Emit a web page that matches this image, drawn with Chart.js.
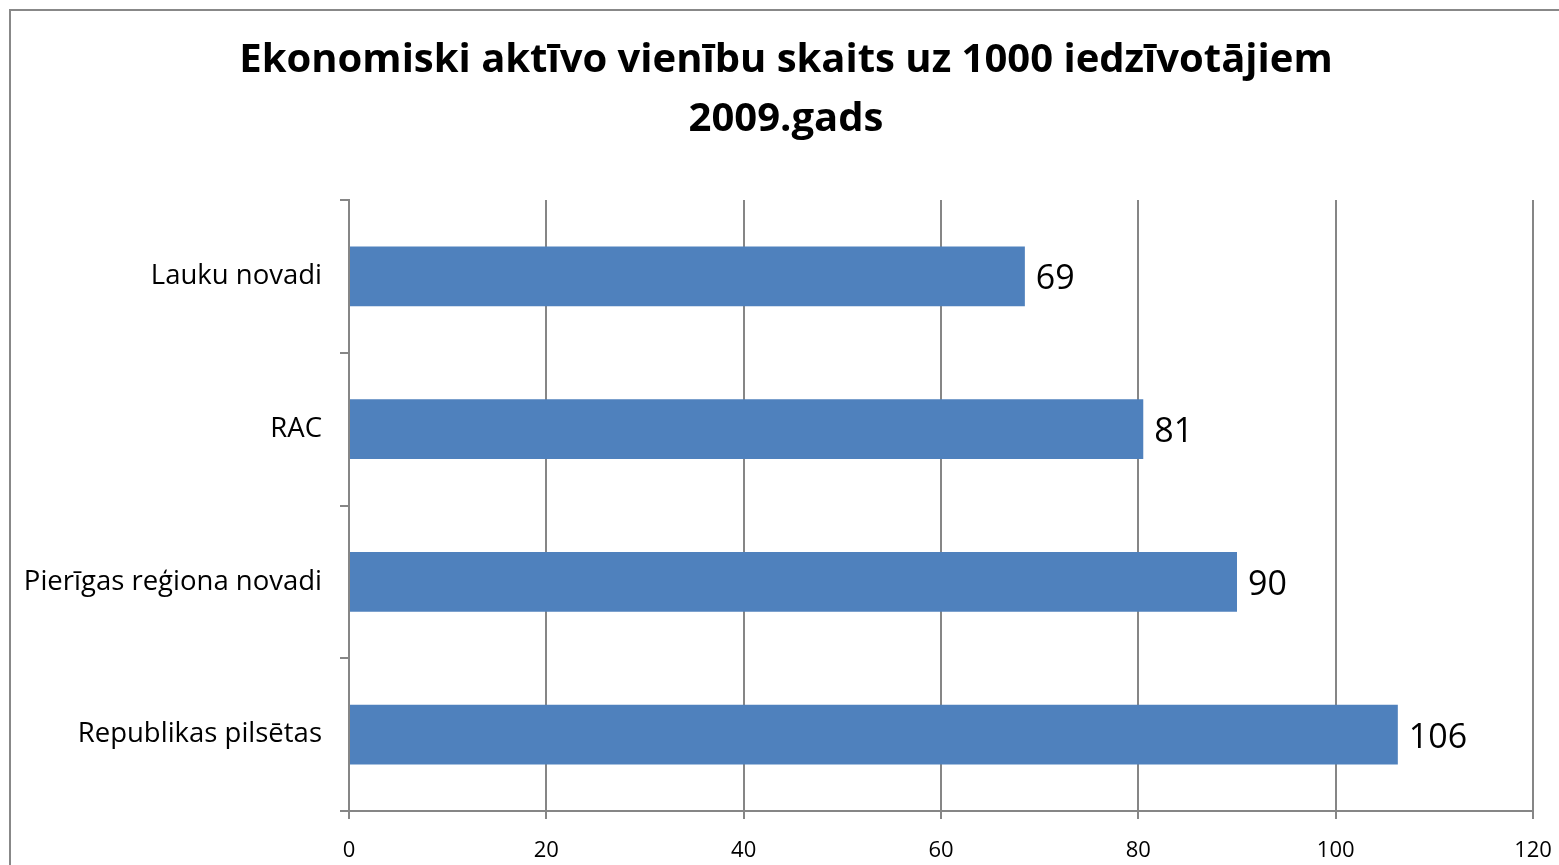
<!DOCTYPE html>
<html><head><meta charset="utf-8">
<script src="https://cdn.jsdelivr.net/npm/chart.js@4/dist/chart.umd.min.js"></script>
<style>html,body{margin:0;padding:0;background:#fff;overflow:hidden}#wrap{position:absolute;left:0;top:0;width:1559px;height:865px}</style>
</head><body><div id="wrap"><canvas id="c" width="1559" height="865"></canvas></div>
<script>
const titleLines = ['Ekonomiski aktīvo vienību skaits uz 1000 iedzīvotājiem', '2009.gads'];
const categories = ['Lauku novadi', 'RAC', 'Pierīgas reģiona novadi', 'Republikas pilsētas'];
const values = [68.5, 80.5, 90, 106.3];
const xTicks = [0, 20, 40, 60, 80, 100, 120];

const FONT = '"Open Sans", Lato, sans-serif';
const GRID = '#868686';

const framePlugin = {
  id: 'frame',
  beforeDraw(chart) {
    const ctx = chart.ctx;
    ctx.save();
    ctx.fillStyle = '#fff';
    ctx.fillRect(0, 0, chart.width, chart.height);
    ctx.strokeStyle = '#888';
    ctx.lineWidth = 2;
    ctx.strokeRect(10, 10, 1600, 900);
    ctx.fillStyle = '#000';
    ctx.font = 'bold 40px ' + FONT;
    ctx.textAlign = 'center';
    ctx.textBaseline = 'alphabetic';
    ctx.fillText(titleLines[0], 786, 72);
    ctx.fillText(titleLines[1], 786, 131);
    ctx.restore();
  },
  afterDatasetsDraw(chart) {
    const ctx = chart.ctx;
    const meta = chart.getDatasetMeta(0);
    ctx.save();
    ctx.fillStyle = '#000';
    ctx.font = '34px ' + FONT;
    ctx.textAlign = 'left';
    ctx.textBaseline = 'alphabetic';
    meta.data.forEach((bar, i) => {
      ctx.fillText(String(Math.round(values[i])), bar.x + 11, bar.y + 13);
    });
    ctx.restore();
  }
};

new Chart(document.getElementById('c'), {
  type: 'bar',
  data: {
    labels: categories,
    datasets: [{
      data: values,
      backgroundColor: '#4f81bd',
      borderWidth: 0,
      barPercentage: 0.39,
      categoryPercentage: 1
    }]
  },
  options: {
    indexAxis: 'y',
    responsive: false,
    animation: false,
    events: [],
    layout: { padding: { left: 10, right: 26, top: 200, bottom: 0 } },
    plugins: { legend: { display: false }, title: { display: false }, tooltip: { enabled: false } },
    scales: {
      x: {
        type: 'linear',
        min: 0, max: 120,
        afterBuildTicks(scale) { scale.ticks = xTicks.map(v => ({ value: v })); },
        afterFit(scale) { scale.height = 54; scale.paddingLeft = 0; scale.paddingRight = 0; },
        grid: { color: GRID, lineWidth: 2, drawTicks: true, tickLength: 8, tickColor: GRID },
        border: { display: true, color: GRID, width: 2 },
        ticks: { color: '#000', font: { family: FONT, size: 22 }, padding: 19, maxRotation: 0 }
      },
      y: {
        afterFit(scale) { scale.width = 339; scale.paddingTop = 0; scale.paddingBottom = 0; },
        grid: { drawOnChartArea: false, drawTicks: true, tickLength: 9, color: GRID, lineWidth: 2, offset: true },
        border: { display: true, color: GRID, width: 2 },
        ticks: { color: '#000', font: { family: FONT, size: 27.5 }, padding: 18 }
      }
    }
  },
  plugins: [framePlugin]
});
</script>
</body></html>
